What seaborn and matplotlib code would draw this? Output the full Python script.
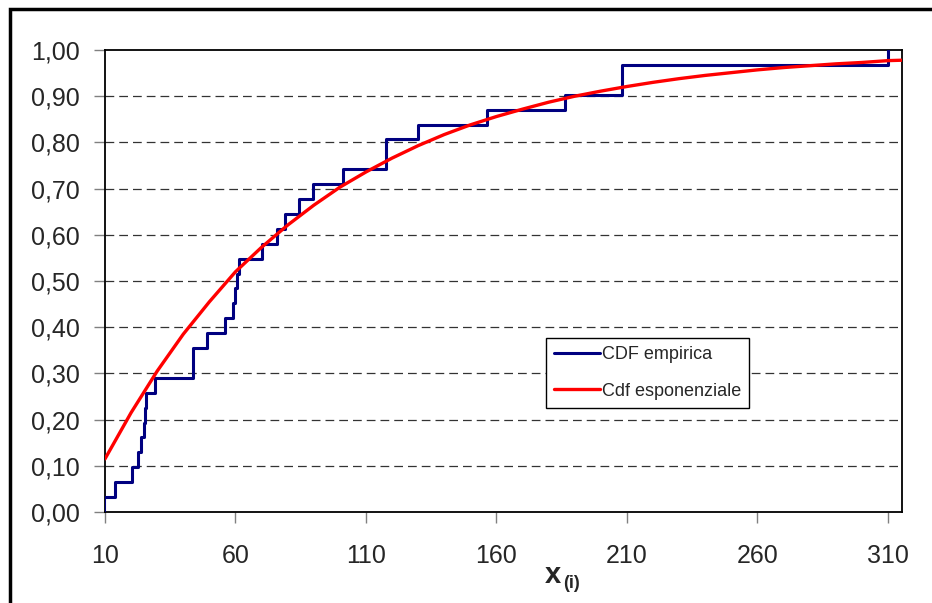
import numpy as np
import pandas as pd
import matplotlib
matplotlib.use('Agg')
from matplotlib import pyplot as plt
from matplotlib.patches import Rectangle
import seaborn as sns

sample_x = [9.5, 13.8, 20.2, 22.5, 23.8, 25.0, 25.3, 25.9, 29.2, 43.8,
            43.8, 48.9, 56.0, 58.9, 59.8, 60.4, 61.3, 70.0, 76.0, 79.0,
            84.3, 89.8, 101.3, 117.7, 117.7, 130.0, 156.2, 186.2, 208.0, 208.0,
            310.1]

# Exponential CDF curve
expo_x = [10, 20, 30, 40, 50, 60, 70, 80, 90, 100, 110, 120, 130, 140, 150, 160,
          170, 180, 190, 200, 210, 220, 230, 240, 250, 260, 270, 280, 290, 300,
          310, 316]
expo_y = [0.115, 0.215, 0.305, 0.385, 0.455, 0.520, 0.573, 0.621, 0.664, 0.703,
          0.736, 0.766, 0.793, 0.817, 0.838, 0.856, 0.872, 0.887, 0.900, 0.911,
          0.921, 0.930, 0.938, 0.945, 0.951, 0.957, 0.962, 0.966, 0.970, 0.973,
          0.977, 0.978]

x_ticks = [10, 60, 110, 160, 210, 260, 310]
y_ticks = [0.0, 0.1, 0.2, 0.3, 0.4, 0.5, 0.6, 0.7, 0.8, 0.9, 1.0]
y_labels = ['0,00', '0,10', '0,20', '0,30', '0,40', '0,50', '0,60', '0,70',
            '0,80', '0,90', '1,00']

sns.set_style('white')
plt.rcParams['font.family'] = ['Liberation Sans', 'DejaVu Sans']

df_emp = pd.DataFrame({'x': sample_x})
df_exp = pd.DataFrame({'x': expo_x, 'F': expo_y})

fig = plt.figure(figsize=(9.32, 6.03), dpi=100)
ax = fig.add_axes([105 / 932, 1 - 512 / 603, 797 / 932, 462 / 603])

# dashed horizontal gridlines
for yv in y_ticks[1:-1]:
    ax.axhline(yv, color='#333333', lw=0.9, ls=(0, (7, 4)), zorder=1)

sns.ecdfplot(data=df_emp, x='x', ax=ax, color='#000080', lw=2.2,
             label='CDF empirica', zorder=3)
sns.lineplot(data=df_exp, x='x', y='F', ax=ax, color='#FF0000', lw=2.4,
             label='Cdf esponenziale', zorder=4)

ax.set_xlim(10, 315.4)
ax.set_ylim(0, 1.0)
ax.set_xticks(x_ticks)
ax.set_xticklabels([str(v) for v in x_ticks])
ax.set_yticks(y_ticks)
ax.set_yticklabels(y_labels)
ax.tick_params(axis='both', labelsize=18, color='#808080', length=8, width=1,
               direction='out', bottom=True, left=True)
ax.tick_params(axis='x', pad=15)
ax.tick_params(axis='y', pad=10)
ax.set_xlabel('')
ax.set_ylabel('')
for sp in ax.spines.values():
    sp.set_color('black')
    sp.set_linewidth(1.3)

leg = ax.legend(loc='upper left', bbox_to_anchor=(0.553, 0.377), borderaxespad=0,
                fontsize=13, frameon=True, fancybox=False, shadow=False,
                edgecolor='black', handlelength=2.55, handletextpad=0.12,
                borderpad=0.45, labelspacing=1.1, framealpha=1)
leg.get_frame().set_linewidth(1.0)

# axis title x(i)
fig.text(545 / 932, 1 - 583 / 603, 'x', fontsize=21, fontweight='bold',
         ha='left', va='baseline')
fig.text(563 / 932, 1 - 588 / 603, '(i)', fontsize=13, fontweight='bold',
         ha='left', va='baseline')

# outer chart frame (only top/left visible)
fig.patches.append(Rectangle((10 / 932, -0.05), 1.2, 1 - 9 / 603 + 0.05,
                             transform=fig.transFigure, fill=False,
                             edgecolor='black', lw=2.5))

fig.savefig('out.png', dpi=100)
